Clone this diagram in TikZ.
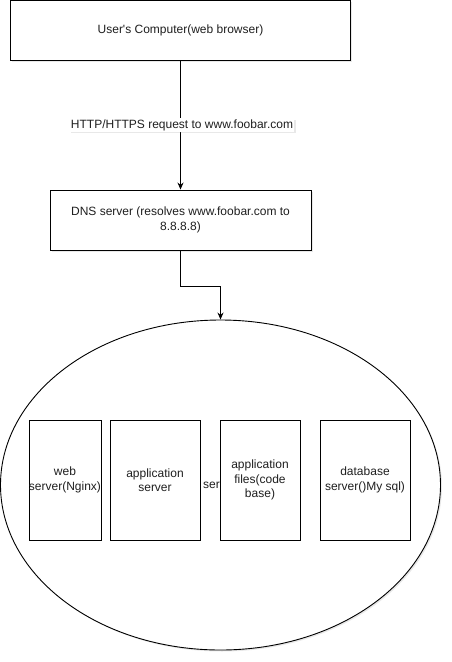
\documentclass[tikz,border=0pt]{standalone}
\usepackage{fontspec}
\setmainfont{Liberation Sans}
\usetikzlibrary{arrows.meta,shapes.geometric,shadows}
\tikzset{
  base/.style={font=\fontsize{12}{14.5}\selectfont, text=black!88, align=center},
  shad/.style={drop shadow={opacity=0.18, shadow xshift=1.5pt, shadow yshift=-1.5pt}},
  topbox/.style={base, draw=black, line width=0.9pt, fill=white, shad, inner sep=0pt},
  inbox/.style={base, draw=black, line width=0.9pt, fill=white, inner sep=0pt, minimum height=120pt},
  arr/.style={draw=black, line width=0.9pt, -{Stealth[length=7pt,width=6pt]}},
  lbl/.style={base, fill=white, inner sep=1pt, shad}
}
\begin{document}
\begin{tikzpicture}[x=1pt,y=-1pt]
\useasboundingbox (0,0) rectangle (452,662);
\node[topbox, minimum width=340pt, minimum height=60pt] (user) at (180.5,30) {User\textquotesingle s Computer(web browser)};
\node[topbox, minimum width=261pt, minimum height=60pt] (dns) at (180.5,220) {DNS server (resolves www.foobar.com to\\8.8.8.8)};
\node[ellipse, draw=black, line width=0.9pt, fill=white, shad, minimum width=440pt, minimum height=330pt, inner sep=0pt] (cluster) at (220.5,485) {};
\draw[arr] (user.south -| dns.north) -- node[lbl, midway, xshift=1.5pt] (req) {HTTP/HTTPS request to www.foobar.com} (dns.north);
\draw[arr] (dns.south) -- ++(0,36) -| (cluster.north);
\node[base, anchor=west, inner sep=0pt] (ser) at (203,485) {ser};
\node[inbox, minimum width=70pt] (web) at (65,480) {web\\server(Nginx)};
\node[inbox, minimum width=90pt] (app) at (155,480) {application\\server};
\node[inbox, minimum width=80pt] (files) at (260,480) {application\\files(code\\base)};
\node[inbox, minimum width=90pt] (db) at (365,480) {database\\server()My sql)};
\end{tikzpicture}
\end{document}
